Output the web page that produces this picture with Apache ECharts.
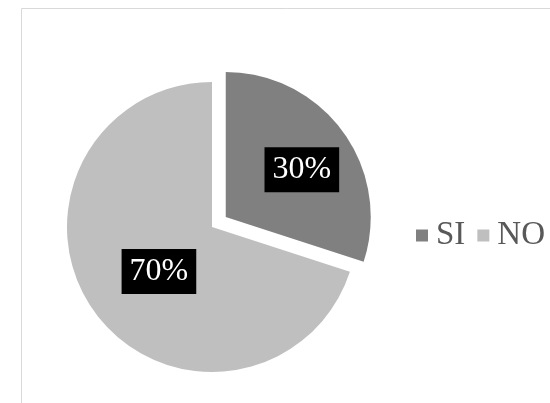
<!DOCTYPE html>
<html>
<head>
<meta charset="utf-8">
<script src="https://cdn.jsdelivr.net/npm/echarts@6/dist/echarts.min.js"></script>
<style>
  html, body { margin: 0; padding: 0; background: #ffffff; }
  #chart { width: 550px; height: 403px; }
</style>
</head>
<body>
<div id="chart"></div>
<script>
// Answer categories and their share of responses (percent)
const categories = ['SI', 'NO'];
const values = [30, 70];
const colors = ['#808080', '#bfbfbf'];

const FONT = '"Liberation Serif", "Times New Roman", serif';

const chart = echarts.init(document.getElementById('chart'), null, { renderer: 'canvas' });

const pieData = categories.map((name, i) => ({
  name: name,
  value: values[i],
  selected: i === 0,
  itemStyle: { color: colors[i] }
}));

chart.setOption({
  animation: false,
  backgroundColor: '#ffffff',
  graphic: [{
    type: 'rect',
    silent: true,
    shape: { x: 21.5, y: 8.5, width: 600, height: 500 },
    style: { fill: 'none', stroke: '#d9d9d9', lineWidth: 1 }
  }],
  legend: {
    data: categories,
    orient: 'horizontal',
    left: 411,
    top: 214,
    width: 200,
    padding: 5,
    icon: 'rect',
    itemWidth: 12,
    itemHeight: 12,
    itemGap: 12,
    textStyle: {
      fontFamily: FONT,
      fontSize: 33,
      lineHeight: 33,
      color: '#595959',
      padding: [0, 0, 0, 3]
    }
  },
  series: [{
    type: 'pie',
    center: [212, 227],
    radius: [0, 145],
    startAngle: 90,
    clockwise: true,
    selectedMode: 'single',
    selectedOffset: 17,
    emphasis: { disabled: true },
    label: {
      show: true,
      position: 'inside',
      formatter: '{c}%',
      fontFamily: FONT,
      fontSize: 32,
      lineHeight: 32,
      color: '#ffffff',
      backgroundColor: '#000000',
      padding: [7, 8, 6, 8]
    },
    // Push the value boxes a little away from the default inside spot
    labelLayout: function (params) {
      return params.dataIndex === 0 ? { dx: 15, dy: -3 } : { dx: 8, dy: 0 };
    },
    labelLine: { show: false },
    data: pieData
  }]
});
</script>
</body>
</html>
